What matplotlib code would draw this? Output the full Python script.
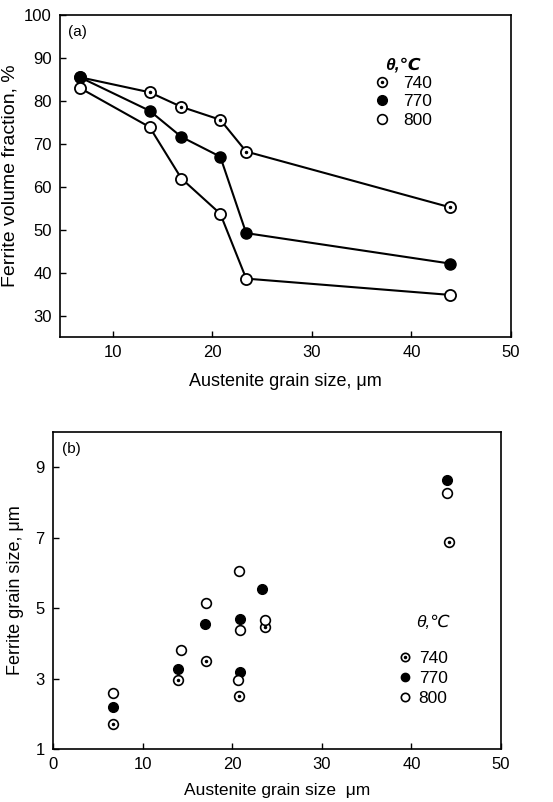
import matplotlib.pyplot as plt
from matplotlib.lines import Line2D

plt.rcParams['font.family'] = ['Liberation Sans', 'DejaVu Sans']

# (a) ferrite volume fraction vs austenite grain size
gs_a = [6.7, 13.7, 16.9, 20.8, 23.4, 43.9]
vf_740 = [85.5, 82.0, 78.6, 75.6, 68.2, 55.2]
vf_770 = [85.5, 77.7, 71.6, 67.0, 49.2, 42.1]
vf_800 = [83.0, 73.9, 61.9, 53.7, 38.6, 34.8]

# (b) ferrite grain size vs austenite grain size (scatter)
x_740 = [6.7, 13.9, 17.1, 20.8, 23.7, 44.2]
fg_740 = [1.7, 2.95, 3.5, 2.5, 4.47, 6.87]
x_770 = [6.7, 13.9, 17.0, 20.9, 20.9, 23.3, 44.0]
fg_770 = [2.2, 3.27, 4.55, 4.7, 3.2, 5.55, 8.64]
x_800 = [6.7, 14.3, 17.1, 20.8, 20.9, 20.7, 23.7, 44.0]
fg_800 = [2.6, 3.82, 5.15, 6.04, 4.38, 2.95, 4.65, 8.26]

temps = ['740', '770', '800']

fig = plt.figure(figsize=(5.53, 8.02), dpi=100)
ax1 = fig.add_axes([60/553, 1-337/802, 451/553, 322/802])
ax2 = fig.add_axes([53/553, 1-749/802, 448/553, 317/802])

ms = 8
ax1.plot(gs_a, vf_740, '-', color='black', lw=1.5, marker='o', ms=ms, mfc='white', mec='black', mew=1.3)
ax1.plot(gs_a, vf_740, '.', color='black', ms=3)
ax1.plot(gs_a, vf_770, '-', color='black', lw=1.5, marker='o', ms=ms, mfc='black', mec='black')
ax1.plot(gs_a, vf_800, '-', color='black', lw=1.5, marker='o', ms=ms, mfc='white', mec='black', mew=1.3)

ax1.set_xlim(4.7, 50)
ax1.set_ylim(25, 100)
ax1.set_xticks([10, 20, 30, 40, 50])
ax1.set_yticks([30, 40, 50, 60, 70, 80, 90, 100])
ax1.set_xlabel('Austenite grain size, μm', fontsize=13, labelpad=9)
ax1.set_ylabel('Ferrite volume fraction, %', fontsize=14, labelpad=4)
ax1.text(0.018, 0.97, '(a)', transform=ax1.transAxes, fontsize=11, va='top')

ms2 = 7
ax2.plot(x_740, fg_740, 'o', ms=ms2, mfc='white', mec='black', mew=1.2)
ax2.plot(x_740, fg_740, '.', color='black', ms=3)
ax2.plot(x_770, fg_770, 'o', ms=ms2, mfc='black', mec='black')
ax2.plot(x_800, fg_800, 'o', ms=ms2, mfc='white', mec='black', mew=1.2)

ax2.set_xlim(0, 50)
ax2.set_ylim(1, 10)
ax2.set_xticks([0, 10, 20, 30, 40, 50])
ax2.set_yticks([1, 3, 5, 7, 9])
ax2.set_xlabel('Austenite grain size  μm', fontsize=12.5, labelpad=8)
ax2.set_ylabel('Ferrite grain size, μm', fontsize=13, labelpad=8)
ax2.text(0.02, 0.97, '(b)', transform=ax2.transAxes, fontsize=11, va='top')

for ax in (ax1, ax2):
    ax.tick_params(direction='in', length=4, width=1, labelsize=12, pad=6)
    for s in ax.spines.values():
        s.set_linewidth(1.2)

def handles(m):
    h740 = (Line2D([], [], ls='none', marker='o', ms=m, mfc='white', mec='black', mew=1.2),
            Line2D([], [], ls='none', marker='.', ms=3, color='black'))
    h770 = Line2D([], [], ls='none', marker='o', ms=m, mfc='black', mec='black')
    h800 = Line2D([], [], ls='none', marker='o', ms=m, mfc='white', mec='black', mew=1.2)
    return [h740, h770, h800]

leg1 = ax1.legend(handles(7), temps, title='θ,℃', frameon=False,
                  loc='upper left', bbox_to_anchor=(0.66, 0.918), fontsize=12.5,
                  handlelength=1.0, handletextpad=0.7, labelspacing=0.2, title_fontsize=12.5)
leg1.get_title().set_fontweight('bold')
leg1.get_title().set_fontstyle('italic')

leg2 = ax2.legend(handles(6), temps, frameon=False,
                  loc='upper left', bbox_to_anchor=(0.735, 0.36), fontsize=12.5,
                  handlelength=0.8, handletextpad=0.4, labelspacing=0.3)
ax2.text(0.848, 0.40, 'θ,℃', transform=ax2.transAxes, fontsize=12.5,
         style='italic', ha='center', va='center')

fig.savefig('out.png', dpi=100)
